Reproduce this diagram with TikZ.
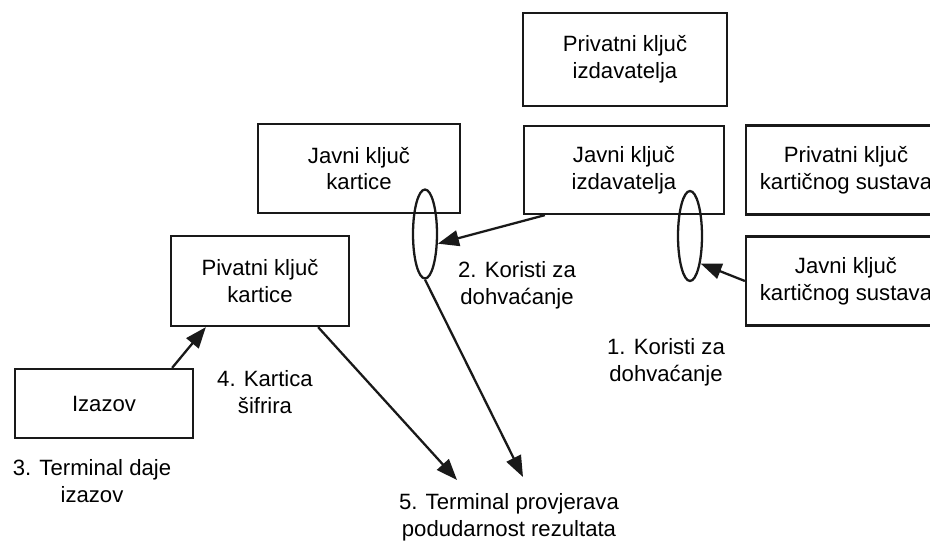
\documentclass[tikz,border=0pt]{standalone}
\usepackage{fontspec}
\setmainfont{Liberation Sans}
\usepackage{tikz}
\usetikzlibrary{shapes,arrows.meta,positioning}
\def\boxwidth{4cm}

\begin{document}
\begin{tikzpicture}[x=0.02cm,y=-0.02cm,line width=1.3pt,draw=black!90,font=\fontsize{12.6pt}{15.3pt}\selectfont]
    \tikzstyle{key}=[rectangle,draw=black!90,minimum width=\boxwidth,minimum height=1.78cm,align=center,inner sep=2pt]
    \tikzstyle{lens}=[ellipse,draw=black!90,minimum width=0.48cm,minimum height=1.78cm,inner sep=0pt]
    \tikzstyle{flow}=[-{Triangle[length=12pt,width=9pt]}]
    \tikzstyle{annot}=[align=center,text=black]

    \useasboundingbox (0,0) rectangle (930,544);

    % Draw the key boxes
    \node[key,minimum width=4.08cm,minimum height=1.86cm] (PI) at (625,59.5) {Privatni ključ\\izdavatelja};
    \node[key,minimum height=1.76cm] (JI) at (624,170) {Javni ključ\\izdavatelja};
    \node[key,minimum width=4.04cm] (JK) at (359,168.5) {Javni ključ\\kartice};
    \node[key,minimum width=3.56cm,minimum height=1.8cm] (PK) at (260,281) {Pivatni ključ\\kartice};
    \node[key,minimum width=3.56cm,minimum height=1.38cm] (C) at (104,403.5) {Izazov};

    % Card system keys, cut off at the right border
    \foreach \name/\y/\txt in {PS/170/Privatni,JS/281/Javni}
        \node[key,minimum height=1.78cm] (\name) at (846,\y) {\txt\ ključ\\kartičnog sustava};

    % Draw the lenses
    \node[lens] (EK) at (425,234) {};
    \node[lens,minimum height=1.8cm] (ES) at (690,236) {};

    % Arrow ends at the result
    \coordinate (T1) at (457,480);
    \coordinate (T2) at (523,477);

    % Connect
    \draw[flow] (JS.west) -- (ES.-69);
    \draw[flow] ([xshift=0.44cm]JI.south west) -- (EK.-37);
    \draw[flow] ([xshift=-0.44cm]C.north east) -- ([xshift=0.72cm]PK.south west);
    \draw[flow] ([xshift=-0.64cm]PK.south east) -- (T1);
    \draw[flow] (EK.south) -- (T2);

    % Annotate the steps
    \node[annot] (L1) at (666,362) {1. Koristi za\\dohvaćanje};
    \node[annot] (L2) at (517,285) {2. Koristi za\\dohvaćanje};
    \node[annot] (L3) at (92,481) {3. Terminal daje\\izazov};
    \node[annot] (L4) at (265,392) {4. Kartica\\šifrira};
    \node[annot] (L5) at (509,517) {5. Terminal provjerava\\podudarnost rezultata};

\end{tikzpicture}
\end{document}
